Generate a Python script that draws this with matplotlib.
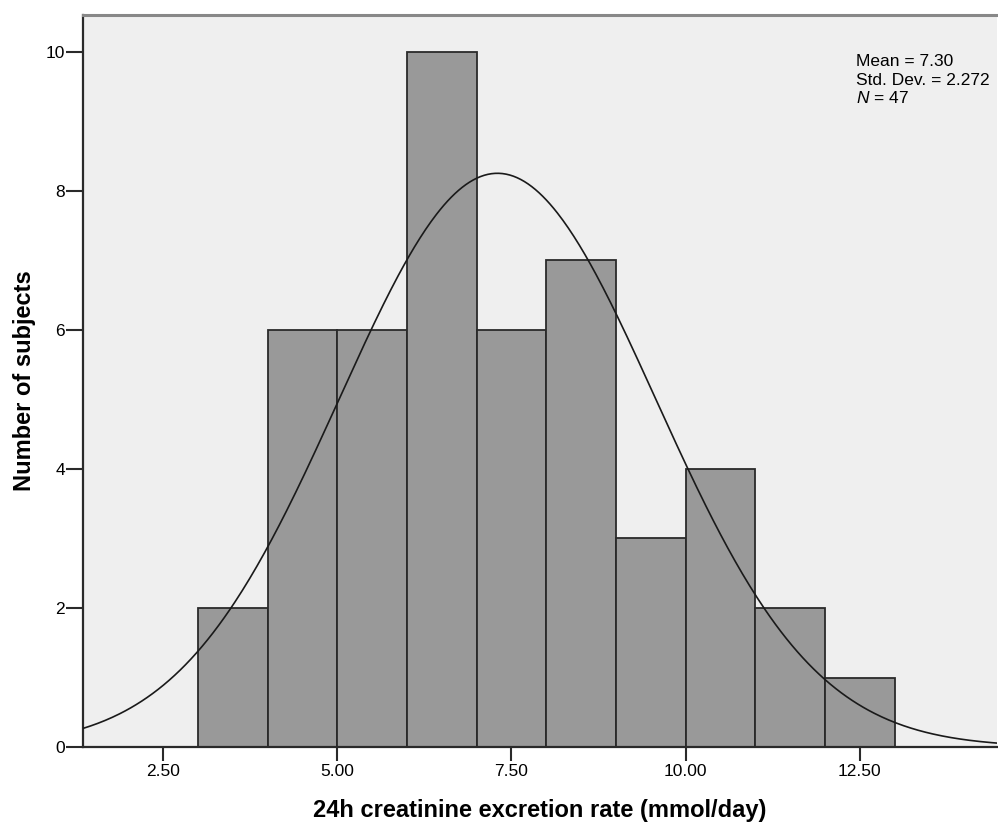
import numpy as np
import matplotlib
matplotlib.use("Agg")
import matplotlib.pyplot as plt

bin_edges = [3, 4, 5, 6, 7, 8, 9, 10, 11, 12, 13]
counts = [2, 6, 6, 10, 6, 7, 3, 4, 2, 1]
mean = 7.30
sd = 2.272
n = 47
xticks = [2.5, 5.0, 7.5, 10.0, 12.5]
xtick_labels = ["2.50", "5.00", "7.50", "10.00", "12.50"]
yticks = [0, 2, 4, 6, 8, 10]
stats_lines = ["Mean = 7.30", "Std. Dev. = 2.272", "$\\it{N}$ = 47"]

plt.rcParams['font.family'] = ['Liberation Sans', 'DejaVu Sans']
plt.rcParams['mathtext.fontset'] = 'custom'
plt.rcParams['mathtext.it'] = 'Liberation Sans:italic'

fig = plt.figure(figsize=(9.98, 8.23), dpi=100)
ax = fig.add_axes([0.0832, 0.0923, 0.9158, 0.8895])
ax.set_facecolor('#efefef')

lefts = np.array(bin_edges[:-1])
widths = np.diff(bin_edges)
ax.bar(lefts, counts, width=widths, align='edge', color='#999999',
       edgecolor='#2a2a2a', linewidth=1.3, zorder=2)

xmin, xmax = 1.352, 14.47
xs = np.linspace(xmin, xmax, 500)
bw = 1.0
ys = n * bw / (sd * np.sqrt(2 * np.pi)) * np.exp(-0.5 * ((xs - mean) / sd) ** 2)
ax.plot(xs, ys, color='#1a1a1a', linewidth=1.2, zorder=3)

ax.set_xlim(xmin, xmax)
ax.set_ylim(0, 10.53)
ax.set_xticks(xticks)
ax.set_xticklabels(xtick_labels)
ax.set_yticks(yticks)
ax.tick_params(axis='both', direction='out', width=1.5,
               color='#2a2a2a', labelsize=12.5, pad=2)
ax.tick_params(axis='x', length=10)
ax.tick_params(axis='y', length=12, pad=1)

for s in ['left', 'bottom']:
    ax.spines[s].set_color('#2a2a2a')
    ax.spines[s].set_linewidth(1.6)
ax.spines['top'].set_color('#888888')
ax.spines['top'].set_linewidth(2.2)
ax.spines['right'].set_visible(False)

ax.set_xlabel('24h creatinine excretion rate (mmol/day)', fontsize=17,
              fontweight='bold')
ax.xaxis.set_label_coords(0.5, -0.0956)
ax.xaxis.label.set_va('baseline')
ax.set_ylabel('Number of subjects', fontsize=17, fontweight='bold')
ax.yaxis.set_label_coords(-0.0766, 0.5)
ax.yaxis.label.set_va('top')

for yy, line in zip([0.9303, 0.9044, 0.8798], stats_lines):
    ax.text(0.8455, yy, line, transform=ax.transAxes, fontsize=12.5,
            va='baseline', ha='left')

fig.savefig('out.png', dpi=100)
